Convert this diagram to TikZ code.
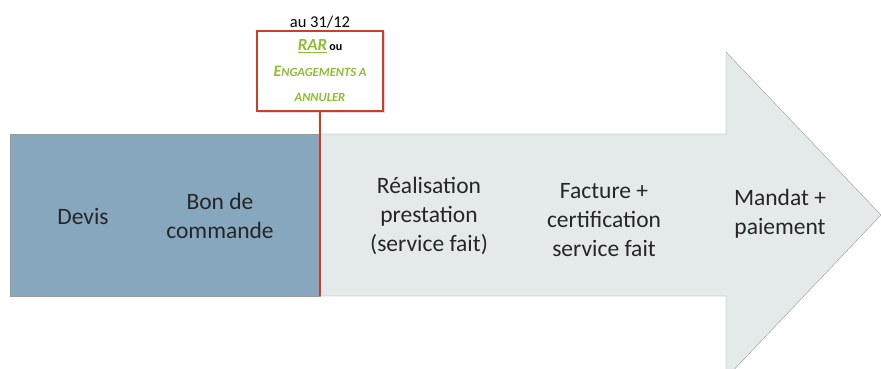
\documentclass[tikz,border=0pt]{standalone}
\usepackage{fontspec}
\setmainfont{Carlito}
\usetikzlibrary{positioning,shadows}
\definecolor{bleu}{RGB}{134,167,190}
\definecolor{gris}{RGB}{228,234,234}
\definecolor{bord}{RGB}{150,155,158}
\definecolor{rouge}{RGB}{205,62,40}
\definecolor{vert}{RGB}{140,190,50}

\begin{document}
\begin{tikzpicture}[x=1pt,y=-1pt,
  etape/.style={align=center,font=\fontsize{23.5}{29}\selectfont,text=black!85},
  rarbox/.style={draw=rouge,fill=white,line width=1.3pt,minimum width=126pt,minimum height=80pt,
    align=center,font=\fontsize{13}{25.5}\selectfont,drop shadow={opacity=0.25,shadow xshift=1.5pt,shadow yshift=-1.5pt}},
  lien/.style={draw=rouge,line width=1.3pt}]
\useasboundingbox (0,0) rectangle (881,369);
% les deux parties du processus
\filldraw[fill=bleu,draw=bord] (10,134) rectangle (320,296);
\filldraw[fill=gris,draw=bord] (320,134) -- (726,134) -- (726,52) -- (881,215) -- (726,378) -- (726,296) -- (320,296) -- cycle;

\node[etape] (devis) at (83,217) {Devis};
\node[etape] (bdc) at (220,216) {Bon de\\commande};
\node[etape] (real) at (429,216) {Réalisation\\prestation\\(service fait)};
\node[etape] (fact) at (604,220) {Facture +\\certification\\service fait};
\node[etape] (mandat) at (780,214) {Mandat +\\paiement};

\node[rarbox] (rar) at (320,71) {{\color{vert}\bfseries\itshape\fontsize{17}{20}\selectfont\underline{RAR}}\,{\fontsize{12}{14}\selectfont\bfseries ou}\\
  {\color{vert}\bfseries\itshape\fontsize{16}{20}\selectfont E{\fontsize{12.5}{14}\selectfont NGAGEMENTS A}}\\
  {\color{vert}\bfseries\itshape\fontsize{12.5}{14}\selectfont ANNULER}};
\node[above=-1pt of rar, font=\fontsize{16.5}{18}\selectfont] (date) {au 31/12};
\coordinate (bas) at (320,296);
\draw[lien] (rar) -- (bas);
\end{tikzpicture}
\end{document}
